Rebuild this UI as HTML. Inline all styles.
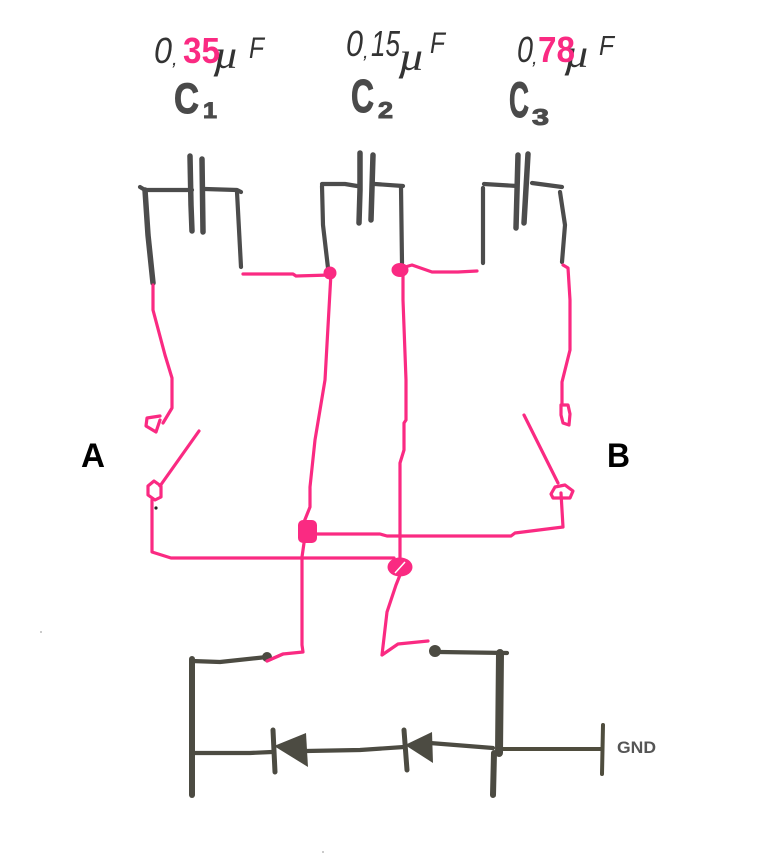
<!DOCTYPE html>
<html>
<head>
<meta charset="utf-8">
<style>
html,body{margin:0;padding:0;background:#fff}
svg{display:block}
text{font-family:"Liberation Sans",sans-serif}
.thin{font-style:italic;fill:#333}
.mu{font-family:"Liberation Serif",serif;font-style:italic;fill:#333}
.pk{font-weight:bold;fill:#fa2a82}
.cap{font-weight:bold;fill:#4a4a4a;stroke:#4a4a4a;stroke-width:1}
.d{fill:none;stroke:#4c4c4c;stroke-linecap:round;stroke-linejoin:round}
.k{fill:none;stroke:#fa2a82;stroke-width:3.2;stroke-linecap:round;stroke-linejoin:round}
.o{fill:none;stroke:#4c4b42;stroke-linecap:round;stroke-linejoin:round}
</style>
</head>
<body>
<svg width="766" height="865" viewBox="0 0 766 865" xmlns="http://www.w3.org/2000/svg">
<rect width="766" height="865" fill="#fff"/>

<!-- value labels -->
<text class="thin" x="154" y="63" font-size="36" textLength="18" lengthAdjust="spacingAndGlyphs">0</text>
<text class="thin" x="172" y="65" font-size="20">,</text>
<text class="mu" x="213" y="68" font-size="40" textLength="26" lengthAdjust="spacingAndGlyphs">µ</text>
<text class="thin" x="249" y="58" font-size="30" textLength="15" lengthAdjust="spacingAndGlyphs">F</text>
<text class="pk" x="183" y="63" font-size="36" textLength="37" lengthAdjust="spacingAndGlyphs">35</text>

<text class="thin" x="346" y="56" font-size="36" textLength="17" lengthAdjust="spacingAndGlyphs">0</text>
<text class="thin" x="363" y="58" font-size="20">,</text>
<text class="thin" x="371" y="56" font-size="36" textLength="29" lengthAdjust="spacingAndGlyphs">15</text>
<text class="mu" x="398" y="70" font-size="40" textLength="27" lengthAdjust="spacingAndGlyphs">µ</text>
<text class="thin" x="430" y="53" font-size="30" textLength="15" lengthAdjust="spacingAndGlyphs">F</text>

<text class="thin" x="517" y="62" font-size="36" textLength="16" lengthAdjust="spacingAndGlyphs">0</text>
<text class="thin" x="532" y="64" font-size="20">,</text>
<text class="mu" x="564" y="67" font-size="40" textLength="26" lengthAdjust="spacingAndGlyphs">µ</text>
<text class="thin" x="599" y="55" font-size="28" textLength="15" lengthAdjust="spacingAndGlyphs">F</text>
<text class="pk" x="538" y="62" font-size="36" textLength="37" lengthAdjust="spacingAndGlyphs">78</text>

<!-- capacitor names -->
<text class="cap" x="174" y="113" font-size="43" textLength="25" lengthAdjust="spacingAndGlyphs">C</text>
<text class="cap" x="203" y="118" font-size="22" textLength="14" lengthAdjust="spacingAndGlyphs">1</text>
<text class="cap" x="351" y="112" font-size="46" textLength="23" lengthAdjust="spacingAndGlyphs">C</text>
<text class="cap" x="378" y="118" font-size="23" textLength="15" lengthAdjust="spacingAndGlyphs">2</text>
<text class="cap" x="509" y="117" font-size="50" textLength="20" lengthAdjust="spacingAndGlyphs">C</text>
<text class="cap" x="532" y="125" font-size="23" textLength="17" lengthAdjust="spacingAndGlyphs">3</text>

<!-- capacitors -->
<g class="d" stroke-width="4.2">
  <path d="M140 187 L145 190 L192 190"/>
  <path d="M205 189 L237 190 L241 192"/>
  <path d="M237 192 L241 267"/>
  <path d="M322 184 L345 184 L357 186"/>
  <path d="M375 184 L403 186"/>
  <path d="M484 184 L517 186"/>
  <path d="M532 183 L562 187"/>
  <path d="M483 188 L483 263"/>
  <path d="M560 192 L565 225 L562 262"/>
  <path d="M322 186 L323 225 L328 268"/>
  <path d="M401 187 L402 263"/>
</g>
<g class="d" stroke-width="5.5">
  <path d="M145 190 L148 235 L153 283"/>
  <path d="M190 156 L191 205 L192 231"/>
  <path d="M202 159 L203 232"/>
  <path d="M360 153 L360 190 L359 223"/>
  <path d="M373 155 L371 220"/>
  <path d="M518 155 L516 228"/>
  <path d="M528 154 L524 223"/>
</g>

<!-- pink wiring -->
<g class="k">
  <path d="M243 274 L293 274 L296 276 L330 275"/>
  <path d="M331 273 L325 380 L315 440 L310 487 L310 507 L304 522"/>
  <path d="M304 543 L302 557 L302 645 L303 652 L283 654 L267 661"/>
  <path d="M403 270 L403 300 L406 380 L406 420 L404 423 L404 450 L400 463 L400 560"/>
  <path d="M400 575 L396 585 L387 612 L382 655 L398 644 L428 641"/>
  <path d="M405 267 L412 265 L432 272 L458 272 L477 271"/>
  <path d="M153 285 L153 310 L165 355 L172 378 L172 408 L163 423"/>
  <path d="M160 416 L147 418 L146 426 L156 432 L160 420"/>
  <path d="M199 431 L160 486"/>
  <path d="M154 481 L148 486 L148 495 L155 500 L161 497 L161 486 Z"/>
  <path d="M152 500 L152 552 L171 558 L394 558"/>
  <path d="M316 534 L380 534 L387 536 L511 536 L515 533 L563 527 L561 493"/>
  <path d="M524 415 L558 483"/>
  <path d="M555 487 L551 494 L553 498 L570 498 L573 491 L565 485 Z"/>
  <path d="M563 265 L568 268 L570 300 L570 350 L562 382 L562 405"/>
  <path d="M561 405 L568 405 L570 414 L569 425 L563 423 L561 415 Z"/>
</g>
<!-- joints -->
<ellipse cx="330" cy="273" rx="6.5" ry="6.5" fill="#fa2a82"/>
<ellipse cx="400" cy="270" rx="8.5" ry="7" fill="#fa2a82"/>
<rect x="298" y="520" width="19" height="23" rx="5" fill="#fa2a82"/>
<ellipse cx="400" cy="567" rx="12.5" ry="9.5" fill="#fa2a82"/>
<path d="M395 573 L405 562" stroke="#fff" stroke-width="1.5"/>
<circle cx="156" cy="508" r="1.6" fill="#222"/>
<circle cx="41" cy="632" r="1" fill="#bbb"/>
<circle cx="323" cy="852" r="1" fill="#bbb"/>

<!-- bottom circuit -->
<g class="o" stroke-width="4.2">
  <path d="M192 661 L220 662 L267 657"/>
  <path d="M440 652 L507 653"/>
  <path d="M192 753 L250 753 L272 752"/>
  <path d="M306 751 L360 750 L404 747"/>
  <path d="M430 743 L493 748"/>
</g>
<g class="o" stroke-linecap="butt">
  <path d="M192 659 L192 795" stroke-width="6"/>
  <path d="M500 653 L499 753" stroke-width="8"/>
  <path d="M494 753 L493 795" stroke-width="6"/>
</g>
<path d="M503 749 L603 749" stroke="#4f4d3e" stroke-width="4"/>
<path d="M603 725 L602 774" stroke="#4f4d3e" stroke-width="4" stroke-linecap="round"/>
<circle cx="267" cy="657" r="5" fill="#4c4b42"/>
<circle cx="435" cy="651" r="6" fill="#4c4b42"/>
<path d="M267 661 L283 654" class="k"/>
<path d="M273 730 L275 772" class="o" stroke-width="5"/>
<path d="M404 730 L407 770" class="o" stroke-width="5"/>
<path d="M274 746 L306 733 L308 767 Z" fill="#4c4b42"/>
<path d="M405 745 L432 732 L433 763 Z" fill="#4c4b42"/>

<!-- labels -->
<text x="81" y="467" font-size="34" font-weight="bold" fill="#000" textLength="24" lengthAdjust="spacingAndGlyphs">A</text>
<text x="607" y="467" font-size="34" font-weight="bold" fill="#000" textLength="23" lengthAdjust="spacingAndGlyphs">B</text>
<text x="617" y="753" font-size="17" font-weight="bold" fill="#555" textLength="39" lengthAdjust="spacingAndGlyphs">GND</text>
</svg>
</body>
</html>
